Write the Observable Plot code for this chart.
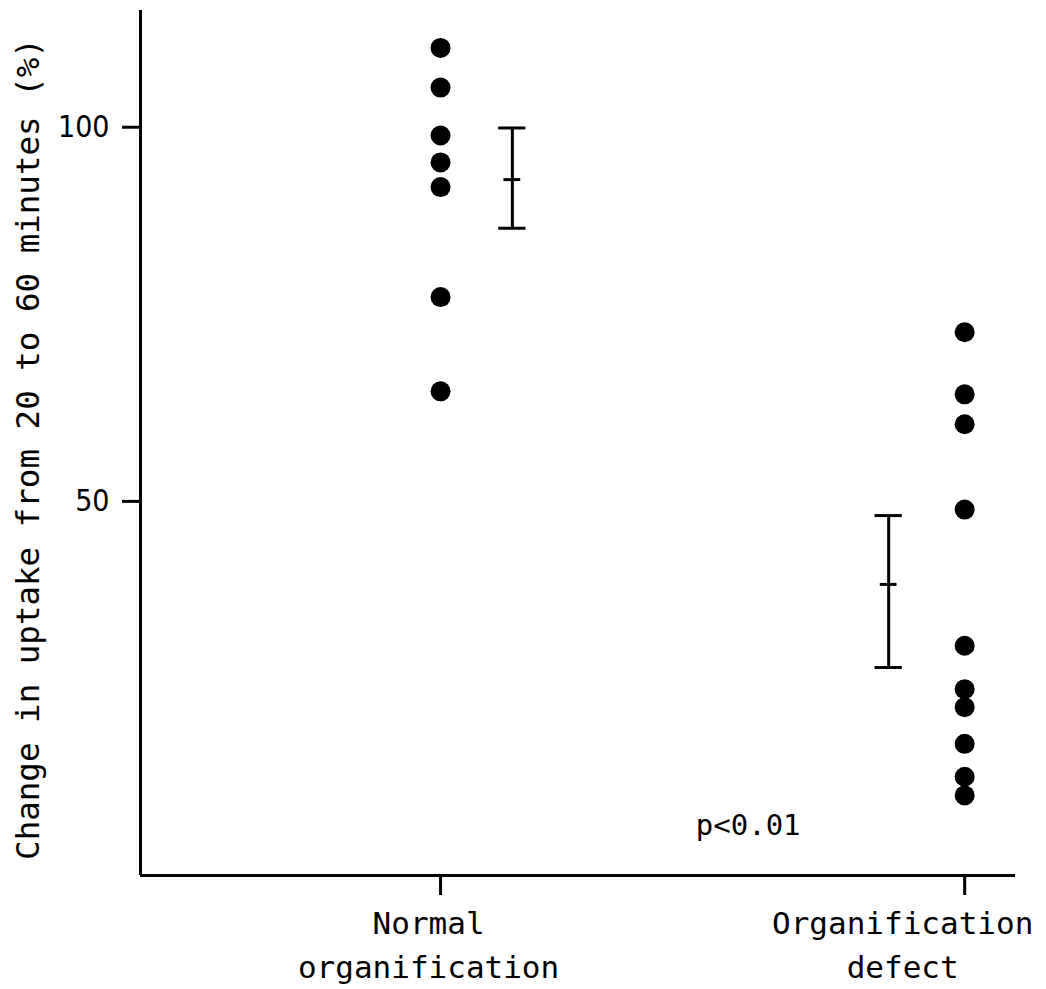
<!DOCTYPE html>
<html>
<head>
<meta charset="utf-8">
<script src="https://cdn.jsdelivr.net/npm/d3@7"></script>
<script src="https://cdn.jsdelivr.net/npm/@observablehq/plot@0.6"></script>
<style>
  html, body { margin: 0; padding: 0; background: #fff; }
  #chart svg { display: block; }
</style>
</head>
<body>
<div id="chart"></div>
<script>
// ---- data ----
const categories = ["Normal\norganification", "Organification\ndefect"];
const categoryPositions = [0, 1];
const normalValues = [110.6, 105.3, 98.9, 95.3, 92.0, 77.3, 64.7];
const defectValues = [72.6, 64.3, 60.3, 48.9, 30.7, 24.9, 22.5, 17.6, 13.2, 10.7];
const meanValues = [93.0, 38.9];
const lowValues = [86.5, 27.8];
const highValues = [99.9, 48.1];
const errorBarOffsets = [0.137, -0.145];
const yTicks = [50, 100];
const yLabel = "Change in uptake from 20 to 60 minutes (%)";
const annotationText = ["p<0.01"];
const annotationX = [0.487];
const annotationY = [6.7];

// ---- build tables ----
const points = [
  ...normalValues.map(v => ({x: categoryPositions[0], y: v})),
  ...defectValues.map(v => ({x: categoryPositions[1], y: v}))
];
const bars = categoryPositions.map((p, i) => ({
  x: p + errorBarOffsets[i], mean: meanValues[i], low: lowValues[i], high: highValues[i]
}));
const notes = annotationText.map((t, i) => ({text: t, x: annotationX[i], y: annotationY[i]}));

const capHalf = 0.026;   // cap half width in x units
const midHalf = 0.016;
const mono = "'DejaVu Sans Mono', 'Liberation Mono', monospace";
const xDomain = [-0.5725, 1.097];
const labelShift = [-12, -62];

const labelAxis = i => Plot.axisX({
  ticks: [categoryPositions[i]], tickSize: 0, tickPadding: 27, dx: labelShift[i],
  fontSize: 31, fontFamily: mono, lineHeight: 1.42,
  tickFormat: () => categories[i], label: null
});

const chart = Plot.plot({
  width: 1046,
  height: 989,
  marginLeft: 140,
  marginRight: 31,
  marginTop: 10,
  marginBottom: 114,
  style: {background: "#fff", color: "#000"},
  x: {domain: xDomain},
  y: {domain: [0, 115.6]},
  marks: [
    Plot.ruleX([xDomain[0]], {stroke: "#000", strokeWidth: 3}),
    Plot.ruleY([0], {stroke: "#000", strokeWidth: 3}),
    Plot.axisY({
      ticks: yTicks, tickSize: 18, tickPadding: 13, strokeWidth: 3,
      fontSize: 30, fontFamily: "'DejaVu Sans Condensed', 'Liberation Sans Narrow', sans-serif",
      label: null, tickFormat: d => String(d)
    }),
    Plot.axisX({
      ticks: categoryPositions, tickSize: 20, strokeWidth: 3,
      tickFormat: () => "", label: null
    }),
    labelAxis(0),
    labelAxis(1),
    Plot.text([yLabel], {
      frameAnchor: "left", rotate: -90, dx: -112, dy: 6, fontSize: 32.5, fontFamily: mono,
      textAnchor: "middle", lineAnchor: "middle", fill: "#000"
    }),
    Plot.dot(points, {x: "x", y: "y", r: 10, fill: "#000", stroke: null}),
    Plot.ruleX(bars, {x: "x", y1: "low", y2: "high", stroke: "#000", strokeWidth: 3}),
    Plot.ruleY(bars, {y: "high", x1: d => d.x - capHalf, x2: d => d.x + capHalf, stroke: "#000", strokeWidth: 3}),
    Plot.ruleY(bars, {y: "low", x1: d => d.x - capHalf, x2: d => d.x + capHalf, stroke: "#000", strokeWidth: 3}),
    Plot.ruleY(bars, {y: "mean", x1: d => d.x - midHalf, x2: d => d.x + midHalf, stroke: "#000", strokeWidth: 3}),
    Plot.text(notes, {x: "x", y: "y", text: "text", textAnchor: "start", fontSize: 29, fontFamily: mono, fill: "#000"})
  ]
});
document.getElementById("chart").appendChild(chart);
</script>
</body>
</html>
